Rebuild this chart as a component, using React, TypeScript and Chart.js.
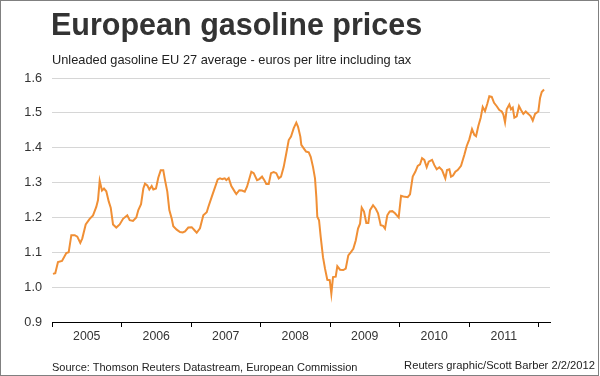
import { useEffect, useRef } from "react";
import { Chart, registerables } from "chart.js";

Chart.register(...registerables);

const titleText = "European gasoline prices";
const subtitleText = "Unleaded gasoline EU 27 average - euros per litre including tax";
const sourceText = "Source: Thomson Reuters Datastream, European Commission";
const creditText = "Reuters graphic/Scott Barber 2/2/2012";

const yearLabels = ["2005", "2006", "2007", "2008", "2009", "2010", "2011"];
const yTickValues = [0.9, 1.0, 1.1, 1.2, 1.3, 1.4, 1.5, 1.6];

// time as decimal years
const dates = [
  2005.014, 2005.047, 2005.086, 2005.144, 2005.206, 2005.24, 2005.278, 2005.327, 2005.364, 2005.407,
  2005.436, 2005.485, 2005.542, 2005.59, 2005.637, 2005.662, 2005.686, 2005.719, 2005.748, 2005.781,
  2005.816, 2005.845, 2005.878, 2005.925, 2005.974, 2006.022, 2006.083, 2006.118, 2006.165, 2006.213,
  2006.242, 2006.281, 2006.314, 2006.338, 2006.371, 2006.4, 2006.434, 2006.458, 2006.496, 2006.529,
  2006.564, 2006.601, 2006.626, 2006.659, 2006.688, 2006.722, 2006.745, 2006.794, 2006.842, 2006.881,
  2006.914, 2006.961, 2007.01, 2007.047, 2007.082, 2007.129, 2007.177, 2007.226, 2007.249, 2007.298,
  2007.345, 2007.384, 2007.417, 2007.45, 2007.485, 2007.508, 2007.542, 2007.58, 2007.629, 2007.652,
  2007.695, 2007.734, 2007.773, 2007.806, 2007.868, 2007.902, 2007.95, 2007.983, 2008.022, 2008.055,
  2008.083, 2008.118, 2008.151, 2008.19, 2008.227, 2008.262, 2008.295, 2008.334, 2008.371, 2008.406,
  2008.439, 2008.478, 2008.515, 2008.54, 2008.573, 2008.587, 2008.622, 2008.655, 2008.694, 2008.722,
  2008.755, 2008.784, 2008.803, 2008.817, 2008.842, 2008.866, 2008.899, 2008.928, 2008.961, 2008.996,
  2009.019, 2009.043, 2009.082, 2009.105, 2009.144, 2009.191, 2009.226, 2009.263, 2009.298, 2009.335,
  2009.37, 2009.403, 2009.432, 2009.456, 2009.489, 2009.522, 2009.551, 2009.576, 2009.619, 2009.658,
  2009.691, 2009.729, 2009.763, 2009.791, 2009.824, 2009.859, 2009.896, 2009.935, 2009.974, 2009.988,
  2010.022, 2010.055, 2010.118, 2010.151, 2010.19, 2010.227, 2010.262, 2010.295, 2010.324, 2010.357,
  2010.391, 2010.42, 2010.468, 2010.501, 2010.535, 2010.573, 2010.612, 2010.659, 2010.683, 2010.717,
  2010.741, 2010.77, 2010.803, 2010.837, 2010.885, 2010.932, 2010.967, 2011.004, 2011.043, 2011.076,
  2011.101, 2011.134, 2011.168, 2011.197, 2011.23, 2011.263, 2011.292, 2011.327, 2011.36, 2011.399,
  2011.436, 2011.471, 2011.494, 2011.518, 2011.542, 2011.58, 2011.604, 2011.629, 2011.652, 2011.686,
  2011.719, 2011.748, 2011.781, 2011.816, 2011.853, 2011.888, 2011.917, 2011.95, 2011.997, 2012.022,
  2012.046, 2012.079,
];

// euros per litre
const prices = [
  1.038, 1.04, 1.072, 1.075, 1.098, 1.1, 1.149, 1.149, 1.145, 1.127,
  1.14, 1.18, 1.196, 1.206, 1.23, 1.25, 1.305, 1.277, 1.283, 1.275,
  1.246, 1.228, 1.18, 1.171, 1.18, 1.196, 1.206, 1.192, 1.19, 1.2,
  1.221, 1.238, 1.283, 1.297, 1.292, 1.28, 1.29, 1.28, 1.283, 1.314,
  1.335, 1.335, 1.307, 1.274, 1.221, 1.197, 1.175, 1.165, 1.158, 1.157,
  1.16, 1.171, 1.172, 1.164, 1.156, 1.169, 1.206, 1.215, 1.23, 1.259,
  1.286, 1.309, 1.312, 1.31, 1.312, 1.307, 1.313, 1.29, 1.274, 1.267,
  1.278, 1.277, 1.274, 1.288, 1.331, 1.327, 1.307, 1.31, 1.317, 1.307,
  1.296, 1.296, 1.327, 1.33, 1.327, 1.312, 1.317, 1.345, 1.384, 1.422,
  1.432, 1.456, 1.472, 1.46, 1.432, 1.408, 1.398, 1.389, 1.387, 1.374,
  1.345, 1.312, 1.259, 1.202, 1.192, 1.144, 1.086, 1.053, 1.021, 1.02,
  0.981, 1.029, 1.03, 1.06, 1.05, 1.049, 1.053, 1.091, 1.1, 1.11,
  1.134, 1.168, 1.182, 1.228, 1.217, 1.184, 1.184, 1.221, 1.235, 1.225,
  1.212, 1.178, 1.176, 1.168, 1.206, 1.217, 1.218, 1.212, 1.203, 1.2,
  1.262, 1.26, 1.258, 1.266, 1.317, 1.331, 1.348, 1.352, 1.37, 1.365,
  1.344, 1.36, 1.365, 1.35, 1.338, 1.344, 1.336, 1.312, 1.336, 1.338,
  1.317, 1.32, 1.331, 1.336, 1.348, 1.379, 1.405, 1.424, 1.453, 1.437,
  1.433, 1.462, 1.486, 1.517, 1.505, 1.526, 1.548, 1.546, 1.529, 1.519,
  1.508, 1.504, 1.495, 1.473, 1.51, 1.524, 1.51, 1.515, 1.486, 1.49,
  1.519, 1.508, 1.497, 1.504, 1.497, 1.49, 1.478, 1.497, 1.504, 1.543,
  1.56, 1.567,
];

const FONT = '"Liberation Sans", Arial, Helvetica, sans-serif';

export default function App() {
  const canvasRef = useRef<HTMLCanvasElement>(null);

  useEffect(() => {
    const canvas = canvasRef.current;
    if (!canvas) return;
    const firstYear = Number(yearLabels[0]);
    const chart = new Chart(canvas, {
      type: "line",
      data: {
        datasets: [
          {
            data: dates.map((d, i) => ({ x: d, y: prices[i] })),
            borderColor: "#F08F35",
            borderWidth: 2,
            pointRadius: 0,
            tension: 0,
            fill: false,
          },
        ],
      },
      options: {
        animation: false,
        responsive: false,
        maintainAspectRatio: false,
        events: [],
        layout: { padding: { left: 0, right: 50, top: 78, bottom: 24 } },
        plugins: {
          legend: { display: false },
          tooltip: { enabled: false },
          title: { display: false },
        },
        scales: {
          x: {
            type: "linear",
            min: firstYear,
            max: firstYear + 7.165,
            afterBuildTicks: (scale: any) => {
              const t: any[] = [];
              for (let i = 0; i <= yearLabels.length * 2; i++) {
                t.push({ value: firstYear + i * 0.5 });
              }
              scale.ticks = t;
            },
            afterFit: (scale: any) => {
              scale.height = 30;
            },
            ticks: {
              autoSkip: false,
              maxRotation: 0,
              minRotation: 0,
              padding: 2,
              color: "#333333",
              font: { family: FONT, size: 12.3 },
              callback: (v: any) => {
                const n = Number(v);
                if (Number.isInteger(n)) return "";
                return yearLabels[Math.floor(n) - firstYear] ?? "";
              },
            },
            grid: {
              drawOnChartArea: false,
              drawTicks: true,
              tickLength: 5,
              tickWidth: 1,
              tickColor: (ctx: any) =>
                ctx.tick && Number.isInteger(ctx.tick.value) ? "#000000" : "rgba(0,0,0,0)",
            },
            border: { display: true, color: "#000000", width: 1 },
          },
          y: {
            min: 0.9,
            max: 1.6,
            afterBuildTicks: (scale: any) => {
              scale.ticks = yTickValues.map((v) => ({ value: v }));
            },
            afterFit: (scale: any) => {
              scale.width = 52;
            },
            ticks: {
              padding: 10,
              color: "#333333",
              font: { family: FONT, size: 12.7 },
              callback: (v: any) => Number(v).toFixed(1),
            },
            grid: {
              drawTicks: false,
              lineWidth: 1,
              color: (ctx: any) =>
                ctx.tick && Math.abs(ctx.tick.value - 0.9) < 1e-6 ? "rgba(0,0,0,0)" : "#d6d6d6",
            },
            border: { display: false },
          },
        },
      },
    });
    return () => chart.destroy();
  }, []);

  return (
    <div
      style={{
        position: "fixed",
        left: 0,
        top: 0,
        width: 600,
        height: 376,
        background: "#ffffff",
        overflow: "hidden",
        fontFamily: FONT,
      }}
    >
      <canvas
        ref={canvasRef}
        width={600}
        height={376}
        style={{ position: "absolute", left: 0, top: 0, width: 600, height: 376 }}
      />
      <div
        style={{
          position: "absolute",
          left: 51,
          top: 9,
          fontSize: 30.5,
          fontWeight: "bold",
          color: "#333333",
          lineHeight: 1,
          whiteSpace: "nowrap",
        }}
      >
        {titleText}
      </div>
      <div
        style={{
          position: "absolute",
          left: 52,
          top: 54,
          fontSize: 12.8,
          color: "#222222",
          lineHeight: 1,
          whiteSpace: "nowrap",
        }}
      >
        {subtitleText}
      </div>
      <div
        style={{
          position: "absolute",
          left: 52,
          top: 362,
          fontSize: 11,
          color: "#222222",
          lineHeight: 1,
          whiteSpace: "nowrap",
        }}
      >
        {sourceText}
      </div>
      <div
        style={{
          position: "absolute",
          right: 5,
          top: 360,
          fontSize: 11.2,
          color: "#222222",
          lineHeight: 1,
          whiteSpace: "nowrap",
        }}
      >
        {creditText}
      </div>
      <div
        style={{
          position: "absolute",
          left: 0,
          top: 0,
          width: 599,
          height: 376,
          boxSizing: "border-box",
          border: "1px solid #808080",
          pointerEvents: "none",
        }}
      />
    </div>
  );
}
